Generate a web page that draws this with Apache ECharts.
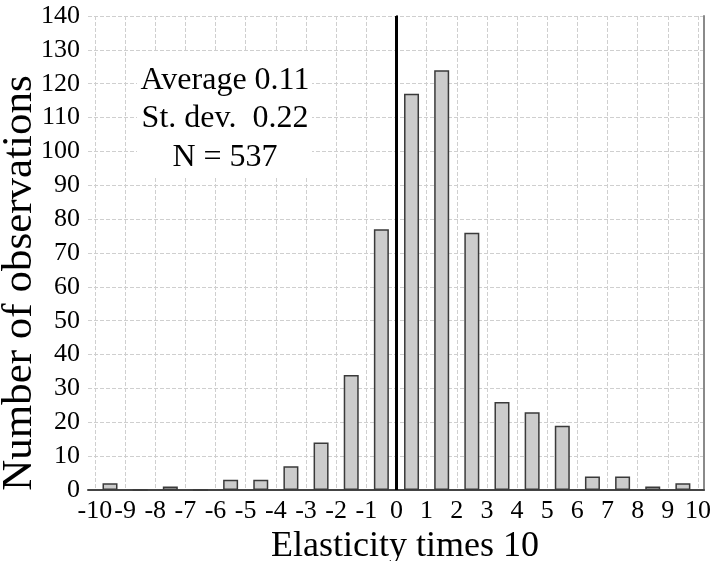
<!DOCTYPE html>
<html>
<head>
<meta charset="utf-8">
<script src="https://cdn.jsdelivr.net/npm/echarts@6/dist/echarts.min.js"></script>
<style>
  html, body { margin: 0; padding: 0; background: #fff; }
  #chart { width: 710px; height: 561px; }
</style>
</head>
<body>
<div id="chart"></div>
<script>
// histogram bins (centre of each 1-wide bin) and counts
const binCenters = [-9.5, -8.5, -7.5, -6.5, -5.5, -4.5, -3.5, -2.5, -1.5, -0.5,
  0.5, 1.5, 2.5, 3.5, 4.5, 5.5, 6.5, 7.5, 8.5, 9.5];
const counts = [2, 0, 1, 0, 3, 3, 7, 14, 34, 77,
  117, 124, 76, 26, 23, 19, 4, 4, 1, 2];
const xTicks = [-10, -9, -8, -7, -6, -5, -4, -3, -2, -1, 0, 1, 2, 3, 4, 5, 6, 7, 8, 9, 10];
const statsLines = ["Average 0.11", "St. dev.  0.22", "N = 537"];

const serif = "Liberation Serif";

const chart = echarts.init(document.getElementById("chart"));

const option = {
  animation: false,
  backgroundColor: "#fff",
  textStyle: { fontFamily: serif },
  grid: { left: 88, right: 6, top: 16, bottom: 71, containLabel: false, outerBoundsMode: "none" },
  xAxis: {
    type: "value",
    min: -10.23,
    max: 10.2,
    name: "Elasticity times 10",
    nameLocation: "middle",
    nameGap: 30,
    nameTextStyle: { fontFamily: serif, fontSize: 36, color: "#000", padding: [0, 0, 0, 18] },
    axisLine: { show: true, onZero: false, lineStyle: { color: "#444", width: 2 } },
    axisTick: { show: false, customValues: xTicks },
    axisLabel: {
      customValues: xTicks,
      fontFamily: serif,
      fontSize: 26,
      color: "#000",
      margin: 8,
    },
    splitLine: {
      show: true,
      lineStyle: { color: "#cfcfcf", type: "dashed", width: 1 },
    },
  },
  yAxis: [
    {
      type: "value",
      min: 0,
      max: 140,
      interval: 10,
      name: "Number of observations",
      nameLocation: "middle",
      nameGap: 47,
      nameMoveOverlap: false,
      nameTextStyle: { fontFamily: serif, fontSize: 43, color: "#000", padding: [0, 60, 0, 0] },
      axisLine: { show: true, lineStyle: { color: "#444", width: 2 } },
      axisTick: { show: false },
      axisLabel: { fontFamily: serif, fontSize: 26, color: "#000", margin: 8 },
      splitLine: {
        show: true,
        lineStyle: { color: "#cfcfcf", type: "dashed", width: 1 },
      },
    },
    {
      type: "value",
      position: "right",
      min: 0,
      max: 140,
      axisLine: { show: true, lineStyle: { color: "#8a8a8a", width: 2 } },
      axisTick: { show: false },
      axisLabel: { show: false },
      splitLine: { show: false },
    },
  ],
  graphic: [
    {
      type: "group",
      left: 137,
      top: 52,
      z: 100,
      children: [
        {
          type: "rect",
          z: 100,
          shape: { x: 0, y: 0, width: 175, height: 126 },
          style: { fill: "#fff" },
        },
        {
          type: "text",
          z: 101,
          x: 88,
          y: 9,
          style: {
            text: statsLines.join("\n"),
            font: "32px " + serif,
            fill: "#000",
            align: "center",
            verticalAlign: "top",
            lineHeight: 38.5,
          },
        },
      ],
    },
  ],
  series: [
    {
      type: "bar",
      data: binCenters.map((c, i) => [c, counts[i]]),
      barWidth: 15,
      itemStyle: { color: "#cccccc", borderColor: "#3a3a3a", borderWidth: 1.5 },
      markLine: {
        silent: true,
        symbol: ["none", "none"],
        label: { show: false },
        lineStyle: { color: "#000", width: 3, type: "solid" },
        data: [{ xAxis: 0 }],
      },
    },
  ],
};

chart.setOption(option);
</script>
</body>
</html>
